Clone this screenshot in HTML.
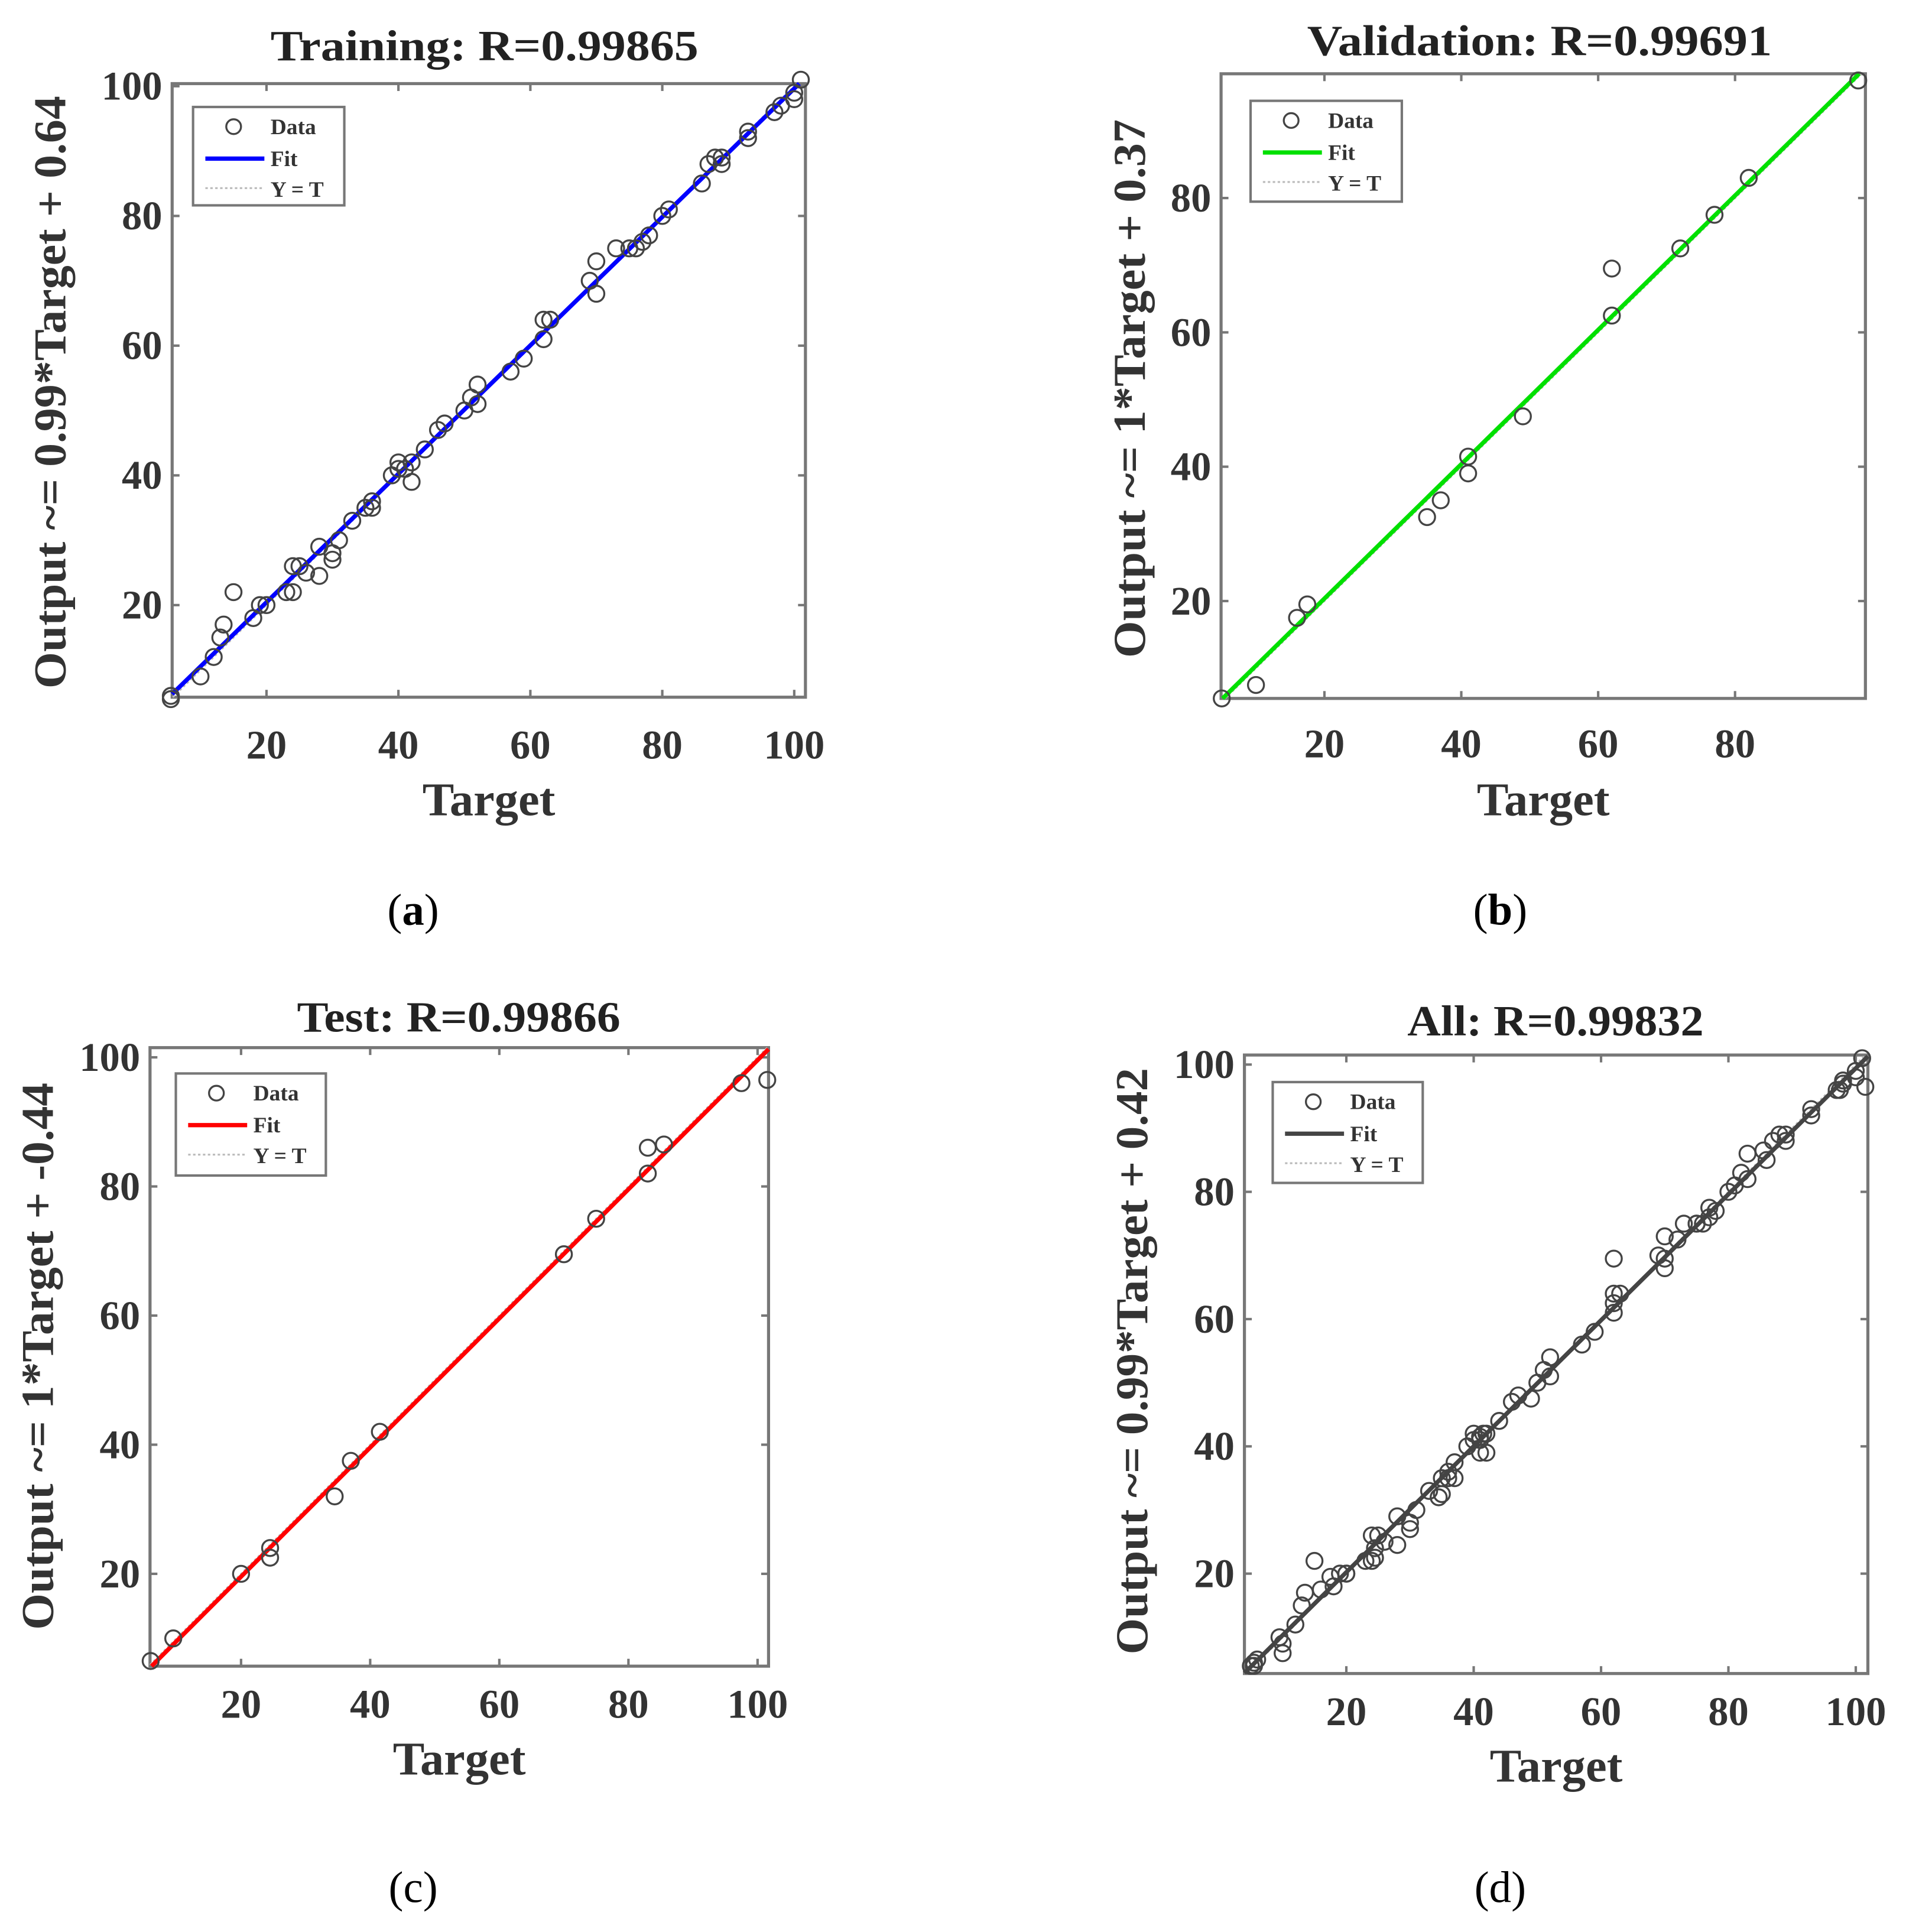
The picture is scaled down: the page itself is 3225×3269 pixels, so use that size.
<!DOCTYPE html>
<html><head><meta charset="utf-8"><style>
html,body{margin:0;padding:0;background:#fff;}
svg{display:block;}
text{font-family:"Liberation Serif",serif;}
</style></head><body>
<svg id="fig" width="3225" height="3269" viewBox="0 0 1550 1571.2" preserveAspectRatio="none" xmlns="http://www.w3.org/2000/svg"></svg>
<script>
// ---- data ----
const trainTarget=[5.5,5.5,10,12,13,13.5,15,18,19,20,23,24,24,25,26,28,28,30,30,31,33,35,36,36,39,40,40,41,42,42,44,46,47,50,51,52,52,57,59,62,62,63,69,70,70,73,75,76,77,78,80,81,86,87,88,89,89,93,93,97,98,100,100,101];
const trainOutput=[6,5.5,9,12,15,17,22,18,20,20,22,22,26,26,25,29,24.5,27,28,30,33,35,36,35,40,41,42,41,39,42,44,47,48,50,52,54,51,56,58,61,64,64,70,73,68,75,75,75,76,77,80,81,85,88,89,89,88,92,93,96,97,98,99,101];
const valTarget=[5,10,16,17.5,35,37,41,41,49,62,62,72,77,82,98];
const valOutput=[5.5,7.5,17.5,19.5,32.5,35,41.5,39,47.5,69.5,62.5,72.5,77.5,83,97.5];
const testTarget=[6,9.5,20,24.5,24.5,34.5,37,41.5,70,75,83,83,85.5,97.5,101.5];
const testOutput=[6.5,10,20,24,22.5,32,37.5,42,69.5,75,82,86,86.5,96,96.5];
const allTarget=trainTarget.concat(valTarget,testTarget);
const allOutput=trainOutput.concat(valOutput,testOutput);
const xTicksA=[20,40,60,80,100];
const yTicksA=[20,40,60,80,100];
const xTicksB=[20,40,60,80];
const yTicksB=[20,40,60,80];
const fitSlope=[0.99,1,1,0.99];
const fitIntercept=[0.64,0.37,-0.44,0.42];

const NS="http://www.w3.org/2000/svg";
const svg=document.getElementById('fig');
function mk(tag,attrs,parent){const e=document.createElementNS(NS,tag);for(const k in attrs)e.setAttribute(k,attrs[k]);(parent||svg).appendChild(e);return e;}

const panels=[
 {id:'training',box:[140,68,655,567],xr:[5.7,101.7],yr:[5.8,100.4],xt:xTicksA,yt:yTicksA,T:trainTarget,O:trainOutput,color:'#0000ff',title:'Training: R=0.99865',tw:348,ylab:'Output ~= 0.99*Target + 0.64',yw:482,ylc:319,tx:394,ty:37,ylx:40,xly:650,tly:606,leg:[157,87,123,80],cap:'a',capx:336,capy:740,bold:true,k:0},
 {id:'validation',box:[993,60,1517,568],xr:[4.9,99.05],yr:[5.5,98.5],xt:xTicksB,yt:yTicksB,T:valTarget,O:valOutput,color:'#00e000',title:'Validation: R=0.99691',tw:378,ylab:'Output ~= 1*Target + 0.37',yw:438,ylc:316,tx:1252,ty:33,ylx:918,xly:650,tly:605,leg:[1017,82,123,82],cap:'b',capx:1220,capy:740,bold:true,k:1},
 {id:'test',box:[122,852,625,1355],xr:[5.9,101.7],yr:[5.7,101.5],xt:xTicksA,yt:yTicksA,T:testTarget,O:testOutput,color:'#ff0000',title:'Test: R=0.99866',tw:263,ylab:'Output ~= 1*Target + -0.44',yw:445,ylc:1103,tx:373,ty:827,ylx:30,xly:1430,tly:1386,leg:[143,873,122,83],cap:'c',capx:336,capy:1535,bold:false,k:2},
 {id:'all',box:[1012,858,1519,1361],xr:[4.0,101.9],yr:[4.3,101.5],xt:xTicksA,yt:yTicksA,T:allTarget,O:allOutput,color:'#444444',title:'All: R=0.99832',tw:241,ylab:'Output ~= 0.99*Target + 0.42',yw:477,ylc:1107,tx:1265,ty:830,ylx:920,xly:1436,tly:1392,leg:[1035,880,122,82],cap:'d',capx:1220,capy:1535,bold:false,k:3}
];

panels.forEach(p=>{
 const [x0,y0,x1,y1]=p.box;
 const sx=v=>x0+(v-p.xr[0])/(p.xr[1]-p.xr[0])*(x1-x0);
 const sy=v=>y1-(v-p.yr[0])/(p.yr[1]-p.yr[0])*(y1-y0);
 const g=mk('g',{});
 
 
 mk('rect',{x:x0,y:y0,width:x1-x0,height:y1-y0,fill:'#fff',stroke:'#777','stroke-width':2.5},g);
 p.xt.forEach(t=>{
  const X=sx(t);
  mk('line',{x1:X,y1:y1,x2:X,y2:y1-6,stroke:'#777','stroke-width':2},g);
  mk('line',{x1:X,y1:y0,x2:X,y2:y0+6,stroke:'#777','stroke-width':2},g);
  const tl=mk('text',{x:X,y:p.tly+11,'text-anchor':'middle','font-size':33,'font-weight':'bold',fill:'#333'},g);
  tl.textContent=t;
  
  
 });
 p.yt.forEach(t=>{
  const Y=sy(t);
  mk('line',{x1:x0,y1:Y,x2:x0+6,y2:Y,stroke:'#777','stroke-width':2},g);
  mk('line',{x1:x1,y1:Y,x2:x1-6,y2:Y,stroke:'#777','stroke-width':2},g);
  const tl=mk('text',{x:x0-8,y:Y+11,'text-anchor':'end','font-size':33,'font-weight':'bold',fill:'#333'},g);
  tl.textContent=t;
  
  
 });
 const lo=Math.max(p.xr[0],p.yr[0]),hi=Math.min(p.xr[1],p.yr[1]);
 const yt=mk('line',{x1:sx(lo),y1:sy(lo),x2:sx(hi),y2:sy(hi),stroke:'#bbb','stroke-width':1.5,'stroke-dasharray':'2 2'},g);
 
 
 const a=fitSlope[p.k],b=fitIntercept[p.k];
 const fa=Math.max(p.xr[0],(p.yr[0]-b)/a),fb=Math.min(p.xr[1],(p.yr[1]-b)/a);
 const fl=mk('line',{x1:sx(fa),y1:sy(a*fa+b),x2:sx(fb),y2:sy(a*fb+b),stroke:p.color,'stroke-width':3.5},g);
 
 
 p.T.forEach((t,i)=>{
  const c=mk('circle',{cx:sx(t),cy:sy(p.O[i]),r:6.5,fill:'none',stroke:'#444','stroke-width':1.6},g);
  
  
 });
 const [lx,ly,lw,lh]=p.leg;
 const lg=mk('g',{},g);
 
 
 mk('rect',{x:lx,y:ly,width:lw,height:lh,fill:'#fff',stroke:'#777','stroke-width':2},lg);
 mk('circle',{cx:lx+33,cy:ly+16,r:6,fill:'none',stroke:'#444','stroke-width':1.6},lg);
 mk('line',{x1:lx+10,y1:ly+42,x2:lx+58,y2:ly+42,stroke:p.color,'stroke-width':3.5},lg);
 mk('line',{x1:lx+10,y1:ly+66,x2:lx+58,y2:ly+66,stroke:'#bbb','stroke-width':1.5,'stroke-dasharray':'2 2'},lg);
 [['Data',ly+22],['Fit',ly+48],['Y = T',ly+73]].forEach(([s,yy])=>{
  const t=mk('text',{x:lx+63,y:yy,'font-size':18,'font-weight':'bold',fill:'#333'},lg);
  t.textContent=s;
  
  
 });
 const ti=mk('text',{x:p.tx-p.tw/2,y:p.ty+12,'font-size':35,'font-weight':'bold',fill:'#222',textLength:p.tw,lengthAdjust:'spacingAndGlyphs'},g);
 ti.textContent=p.title;
 
 
 const xc=(x0+x1)/2;
 const xl=mk('text',{x:xc-54,y:p.xly+13,'font-size':38,'font-weight':'bold',fill:'#333',textLength:108,lengthAdjust:'spacingAndGlyphs'},g);
 xl.textContent='Target';
 
 
 const cy=p.ylc;
 const yl=mk('text',{x:p.ylx-p.yw/2,y:cy,'font-size':37,'font-weight':'bold',fill:'#333',textLength:p.yw,lengthAdjust:'spacingAndGlyphs',transform:'rotate(-90 '+p.ylx+' '+cy+') translate(0 13)'},g);
 yl.textContent=p.ylab;
 
 
 const cp=mk('text',{x:p.capx,y:p.capy+12,'text-anchor':'middle','font-size':36,fill:'#000'},svg);
 if(p.bold){cp.innerHTML='(<tspan font-weight="bold">'+p.cap+'</tspan>)';}else{cp.textContent='('+p.cap+')';}
 
 
});
</script>
</body></html>
